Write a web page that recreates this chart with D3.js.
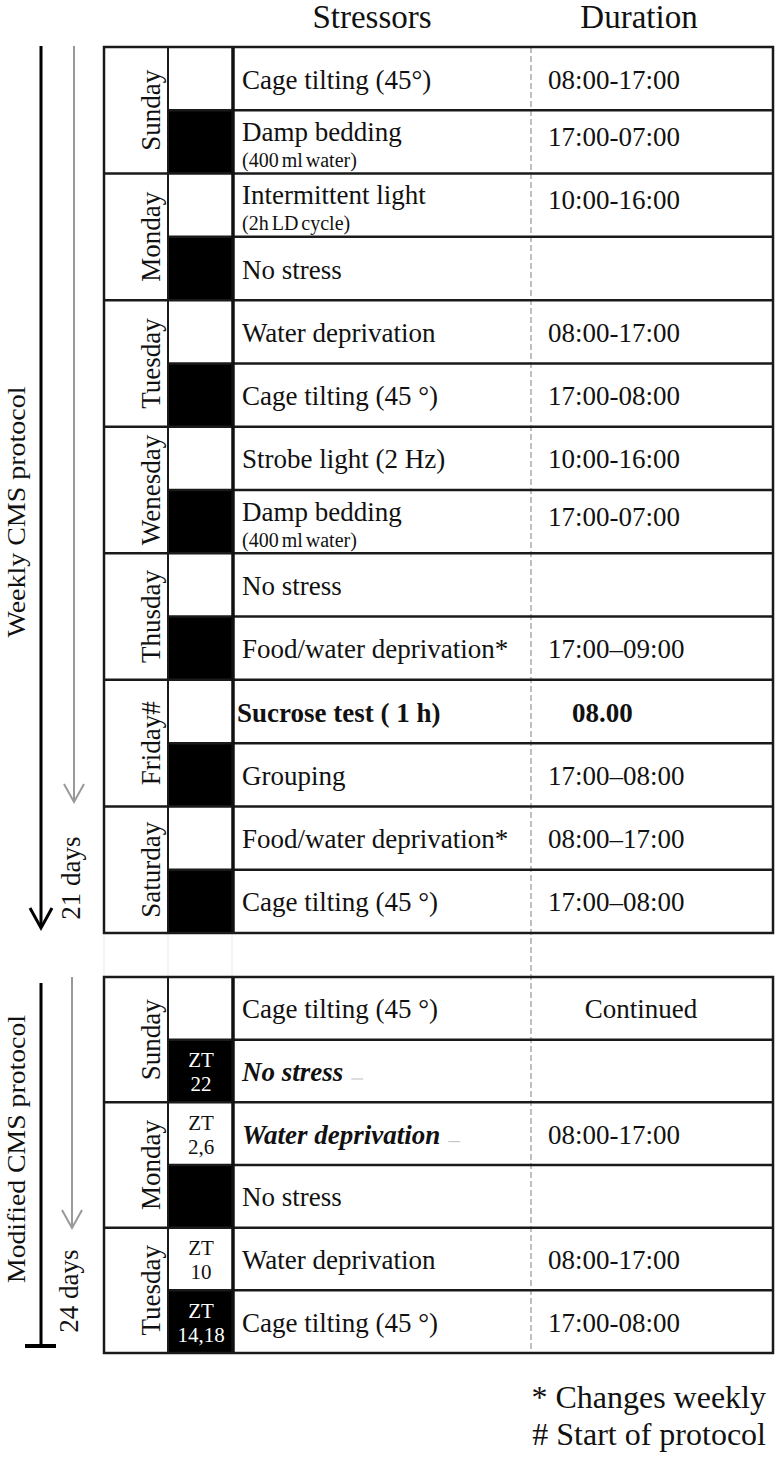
<!DOCTYPE html>
<html>
<head>
<meta charset="utf-8">
<script src="https://cdn.jsdelivr.net/npm/d3@7/dist/d3.min.js"></script>
<style>
html,body{margin:0;padding:0;background:#fff;}
svg{display:block;}
text{font-family:"Liberation Serif","Times New Roman",serif;fill:#111;}
</style>
</head>
<body>
<svg id="chart" width="776" height="1457"></svg>
<script>
// ---------- DATA ----------
const headers = ["Stressors", "Duration"];

const weeklyDays = ["Sunday","Monday","Tuesday","Wenesday","Thusday","Friday#","Saturday"];
const weeklyPhase = ["light","dark","light","dark","light","dark","light","dark","light","dark","light","dark","light","dark"];
const weeklyStressors = [
  "Cage tilting (45°)","Damp bedding",
  "Intermittent light","No stress",
  "Water deprivation","Cage tilting (45 °)",
  "Strobe light (2 Hz)","Damp bedding",
  "No stress","Food/water deprivation*",
  "Sucrose test ( 1 h)","Grouping",
  "Food/water deprivation*","Cage tilting (45 °)"
];
const weeklyNotes = ["","(400 ml water)","(2h LD cycle)","","","","","(400 ml water)","","","","","",""];
const weeklyDurations = [
  "08:00-17:00","17:00-07:00",
  "10:00-16:00","",
  "08:00-17:00","17:00-08:00",
  "10:00-16:00","17:00-07:00",
  "","17:00–09:00",
  "08.00","17:00–08:00",
  "08:00–17:00","17:00–08:00"
];
const weeklyEmphasis = ["","","","","","","","","","","bold","","",""];

const modifiedDays = ["Sunday","Monday","Tuesday"];
const modifiedPhase = ["light","dark","light","dark","light","dark"];
const modifiedZT = [[],["ZT","22"],["ZT","2,6"],[],["ZT","10"],["ZT","14,18"]];
const modifiedStressors = ["Cage tilting (45 °)","No stress","Water deprivation","No stress","Water deprivation","Cage tilting (45 °)"];
const modifiedDurations = ["Continued","","08:00-17:00","","08:00-17:00","17:00-08:00"];
const modifiedEmphasis = ["","bolditalic","bolditalic","","",""];

const sideLabels = ["Weekly CMS protocol","21 days","Modified CMS protocol","24 days"];
const footnotes = ["* Changes weekly","# Start of protocol"];

// ---------- LAYOUT ----------
const svg = d3.select("#chart");
const X = {left:104, day:168, shade:232, dash:531, right:773, stressText:242, durText:548};
const tables = [
  {days:weeklyDays, phase:weeklyPhase, zt:weeklyPhase.map(()=>[]), stress:weeklyStressors, notes:weeklyNotes, dur:weeklyDurations, emph:weeklyEmphasis, y0:47, y1:933},
  {days:modifiedDays, phase:modifiedPhase, zt:modifiedZT, stress:modifiedStressors, notes:modifiedPhase.map(()=>""), dur:modifiedDurations, emph:modifiedEmphasis, y0:977, y1:1353}
];

// headers
svg.append("text").attr("x",372).attr("y",28).attr("text-anchor","middle").style("font-size","33px").text(headers[0]);
svg.append("text").attr("x",639).attr("y",28).attr("text-anchor","middle").style("font-size","33px").text(headers[1]);

// faint column guides through the gap
[X.left, X.day, X.shade].forEach(x=>{
  svg.append("line").attr("x1",x).attr("x2",x).attr("y1",933).attr("y2",977).attr("stroke","#f0f0f0").attr("stroke-width",1.5);
});
// dashed separator
svg.append("line").attr("x1",X.dash).attr("x2",X.dash).attr("y1",47).attr("y2",1353)
  .attr("stroke","#aaa").attr("stroke-width",1.5).attr("stroke-dasharray","6,3");

tables.forEach(t=>{
  const half = d3.scaleBand().domain(d3.range(t.phase.length)).range([t.y0,t.y1]);
  const day = d3.scaleBand().domain(t.days).range([t.y0,t.y1]);
  const g = svg.append("g");

  // shade cells
  g.selectAll("rect.shade").data(t.phase).join("rect")
    .attr("x",X.day).attr("width",X.shade-X.day)
    .attr("y",(d,i)=>half(i)).attr("height",half.bandwidth())
    .attr("fill",d=>d==="dark"?"#000":"#fff");

  // horizontal lines in shade + stressor area
  g.selectAll("line.h").data(d3.range(1,t.phase.length)).join("line")
    .attr("x1",X.day).attr("x2",X.right)
    .attr("y1",i=>half(i)).attr("y2",i=>half(i))
    .attr("stroke","#1a1a1a").attr("stroke-width",2.5);
  // day boundaries
  g.selectAll("line.d").data(t.days.slice(1)).join("line")
    .attr("x1",X.left).attr("x2",X.day)
    .attr("y1",d=>day(d)).attr("y2",d=>day(d))
    .attr("stroke","#1a1a1a").attr("stroke-width",2.5);
  // verticals
  g.append("line").attr("x1",X.day).attr("x2",X.day).attr("y1",t.y0).attr("y2",t.y1).attr("stroke","#1a1a1a").attr("stroke-width",2);
  g.append("line").attr("x1",X.shade+1).attr("x2",X.shade+1).attr("y1",t.y0).attr("y2",t.y1).attr("stroke","#111").attr("stroke-width",3.5);
  // border
  g.append("rect").attr("x",X.left).attr("y",t.y0).attr("width",X.right-X.left).attr("height",t.y1-t.y0)
    .attr("fill","none").attr("stroke","#1a1a1a").attr("stroke-width",2.5);

  // day labels
  g.selectAll("text.day").data(t.days).join("text")
    .attr("transform",d=>`translate(160,${day(d)+day.bandwidth()/2}) rotate(-90)`)
    .attr("text-anchor","middle").style("font-size","27px").text(d=>d);

  // ZT labels
  t.zt.forEach((lines,i)=>{
    const cy = half(i)+half.bandwidth()/2;
    lines.forEach((s,k)=>{
      g.append("text").attr("x",(X.day+X.shade)/2+1).attr("y",cy-4+k*24)
        .attr("text-anchor","middle").style("font-size","21px")
        .style("fill",t.phase[i]==="dark"?"#fff":"#111").text(s);
    });
  });

  // stressors
  t.stress.forEach((s,i)=>{
    const cy = half(i)+half.bandwidth()/2;
    const hasNote = t.notes[i] !== "";
    const em = t.emph[i];
    const x0 = em==="bold" ? 237 : X.stressText;
    const tx = g.append("text")
      .attr("x", x0)
      .attr("y", hasNote ? cy-1 : cy+10)
      .style("font-size","27px")
      .style("font-weight", em ? "bold" : "normal")
      .style("font-style", em==="bolditalic" ? "italic" : "normal")
      .text(s);
    if (em==="bolditalic") {
      const w = tx.node().getComputedTextLength();
      g.append("line").attr("x1",x0+w+8).attr("x2",x0+w+20)
        .attr("y1",cy+8).attr("y2",cy+8).attr("stroke","#bbb").attr("stroke-width",1);
    }
    if (hasNote) {
      g.append("text").attr("x",X.stressText).attr("y",cy+25).style("font-size","20px")
        .style("word-spacing","-2px").text(t.notes[i]);
    }
  });

  // durations
  t.dur.forEach((s,i)=>{
    if (!s) return;
    const cy = half(i)+half.bandwidth()/2;
    const em = t.emph[i];
    const tx = g.append("text").attr("y", t.notes[i] ? cy+4 : cy+10).style("font-size","27px")
      .style("font-weight", em==="bold" ? "bold" : "normal").text(s);
    if (s==="Continued") tx.attr("x",641).attr("text-anchor","middle");
    else tx.attr("x", em==="bold" ? 572 : X.durText);
  });
});

// ---------- SIDE ANNOTATIONS ----------
const side = svg.append("g");
function chevron(x, y, hw, h, color, w){
  side.append("path").attr("d",`M${x-hw},${y-h} L${x},${y} L${x+hw},${y-h}`)
    .attr("fill","none").attr("stroke",color).attr("stroke-width",w);
}
// weekly
side.append("line").attr("x1",41).attr("x2",41).attr("y1",46).attr("y2",927).attr("stroke","#000").attr("stroke-width",3);
chevron(41,928,11,20,"#000",3);
side.append("line").attr("x1",74).attr("x2",74).attr("y1",46).attr("y2",801).attr("stroke","#999").attr("stroke-width",2);
chevron(74,802,10,18,"#999",2);
// modified
side.append("line").attr("x1",41).attr("x2",41).attr("y1",983).attr("y2",1346).attr("stroke","#000").attr("stroke-width",3);
side.append("line").attr("x1",25).attr("x2",56).attr("y1",1346).attr("y2",1346).attr("stroke","#000").attr("stroke-width",4);
side.append("line").attr("x1",72).attr("x2",72).attr("y1",977).attr("y2",1227).attr("stroke","#999").attr("stroke-width",2);
chevron(72,1228,10,18,"#999",2);

const sidePos = [[25,512],[80,878],[25,1149],[78,1291]];
const sideLen = [251,null,268,null];
sideLabels.forEach((s,i)=>{
  const t = side.append("text").attr("transform",`translate(${sidePos[i][0]},${sidePos[i][1]}) rotate(-90)`)
    .attr("text-anchor","middle").style("font-size", sideLen[i] ? "25px" : "27px").text(s);
  if (sideLen[i]) t.attr("textLength",sideLen[i]).attr("lengthAdjust","spacingAndGlyphs");
});

// footnotes
footnotes.forEach((s,i)=>{
  svg.append("text").attr("x",766).attr("y",1408+i*37).attr("text-anchor","end").style("font-size","32px").text(s);
});
</script>
</body>
</html>
